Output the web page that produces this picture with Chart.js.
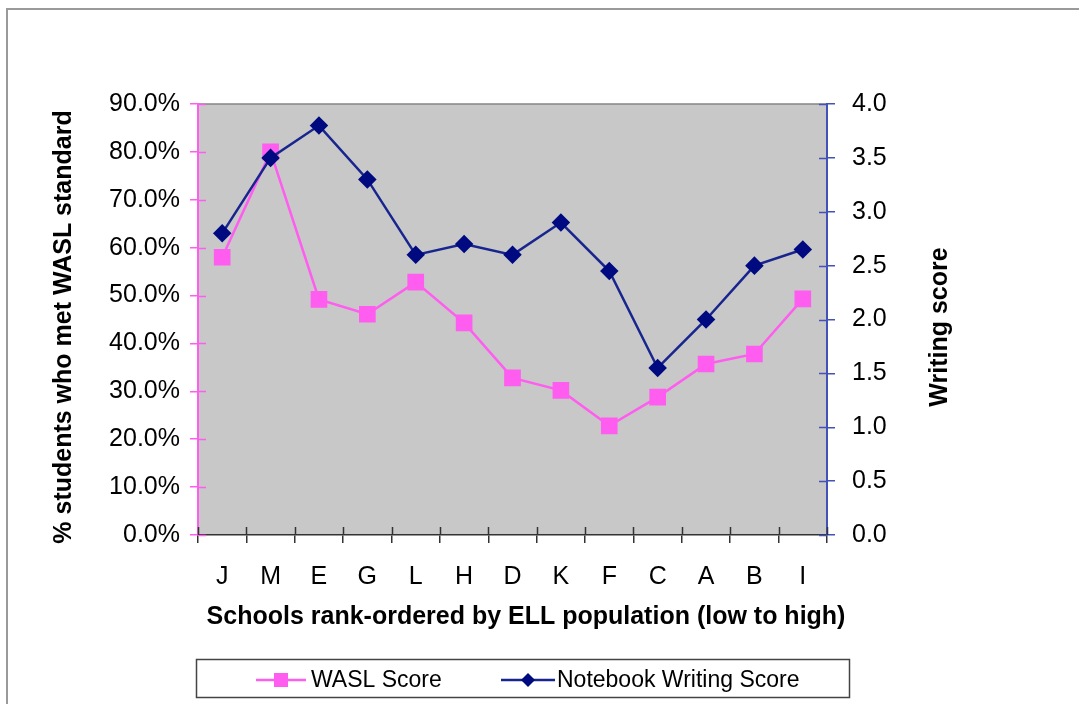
<!DOCTYPE html>
<html>
<head>
<meta charset="utf-8">
<script src="https://cdn.jsdelivr.net/npm/chart.js@4"></script>
<style>
  html, body { margin: 0; padding: 0; background: #fff; overflow: hidden; }
  #wrap { position: relative; width: 1079px; height: 704px; }
</style>
</head>
<body>
<div id="wrap"><canvas id="myChart" width="1079" height="704"></canvas></div>
<script>
const schools = ['J', 'M', 'E', 'G', 'L', 'H', 'D', 'K', 'F', 'C', 'A', 'B', 'I'];
const waslScore = [58.0, 80.0, 49.2, 46.1, 52.8, 44.3, 32.8, 30.2, 22.8, 28.8, 35.7, 37.8, 49.3];
const notebookScore = [2.8, 3.5, 3.8, 3.3, 2.6, 2.7, 2.6, 2.9, 2.45, 1.55, 2.0, 2.5, 2.65];
const pctTicks = [0, 10, 20, 30, 40, 50, 60, 70, 80, 90];
const scoreTicks = [0, 0.5, 1, 1.5, 2, 2.5, 3, 3.5, 4];

const font = '"Liberation Sans", Arial, Helvetica, sans-serif';
const pink = '#ff5cf0';
const navyLine = '#18258f';
const navyPoint = '#000a80';
const blueAxis = '#4352b8';

// frame, plot background, crossing ticks, titles and legend
const decor = {
    id: 'decor',
    beforeDraw(chart) {
        const c = chart.ctx, a = chart.chartArea;
        c.save();
        c.strokeStyle = '#9a9a9a';
        c.lineWidth = 2;
        c.strokeRect(7, 9, 1200, 800);
        c.fillStyle = '#c8c8c8';
        c.fillRect(a.left, a.top, a.right - a.left, a.bottom - a.top);
        c.strokeStyle = '#858585';
        c.lineWidth = 1.5;
        c.beginPath();
        c.moveTo(a.left, a.top);
        c.lineTo(a.right, a.top);
        c.stroke();
        c.restore();
    },
    afterDraw(chart) {
        const c = chart.ctx, a = chart.chartArea;
        const s = chart.scales;
        c.save();
        // inner halves of tick marks
        c.lineWidth = 1.5;
        c.strokeStyle = pink;
        s.y.ticks.forEach((t, i) => {
            const p = Math.round(s.y.getPixelForTick(i)) + 0.5;
            c.beginPath(); c.moveTo(a.left, p); c.lineTo(a.left + 8, p); c.stroke();
        });
        c.strokeStyle = blueAxis;
        s.y1.ticks.forEach((t, i) => {
            const p = Math.round(s.y1.getPixelForTick(i)) + 0.5;
            c.beginPath(); c.moveTo(a.right - 8, p); c.lineTo(a.right, p); c.stroke();
        });
        c.strokeStyle = '#333';
        const half = (s.x.getPixelForValue(1) - s.x.getPixelForValue(0)) / 2;
        for (let i = 0; i <= schools.length; i++) {
            const p = Math.round(s.x.getPixelForValue(i) - half) + 0.5;
            c.beginPath(); c.moveTo(p, a.bottom - 8); c.lineTo(p, a.bottom); c.stroke();
        }

        // axis titles
        c.fillStyle = '#000';
        c.font = 'bold 25px ' + font;
        c.textAlign = 'center';
        c.textBaseline = 'middle';
        c.fillText('Schools rank-ordered by ELL population (low to high)', 526, 617);
        c.save();
        c.translate(64, 327);
        c.rotate(-Math.PI / 2);
        c.fillText('% students who met WASL standard', 0, 0);
        c.restore();
        c.save();
        c.translate(940, 327);
        c.rotate(-Math.PI / 2);
        c.fillText('Writing score', 0, 0);
        c.restore();

        // legend
        c.strokeStyle = '#444';
        c.lineWidth = 1.5;
        c.strokeRect(196.5, 659.5, 653, 38);
        const ly = 680;
        c.strokeStyle = pink; c.lineWidth = 2.5;
        c.beginPath(); c.moveTo(256, ly); c.lineTo(306, ly); c.stroke();
        c.fillStyle = pink;
        c.fillRect(274, ly - 7, 14, 14);
        c.strokeStyle = navyLine; c.lineWidth = 2.5;
        c.beginPath(); c.moveTo(501, ly); c.lineTo(555, ly); c.stroke();
        c.fillStyle = navyPoint;
        c.beginPath();
        c.moveTo(528, ly - 7); c.lineTo(535, ly); c.lineTo(528, ly + 7); c.lineTo(521, ly);
        c.closePath(); c.fill();
        c.fillStyle = '#000';
        c.font = '23px ' + font;
        c.textAlign = 'left';
        c.fillText('WASL Score', 311, ly + 1);
        c.fillText('Notebook Writing Score', 557, ly + 1);
        c.restore();
    }
};

const ctx = document.getElementById('myChart');

new Chart(ctx, {
    type: 'line',
    data: {
        labels: schools,
        datasets: [
            {
                label: 'WASL Score',
                data: waslScore,
                yAxisID: 'y',
                order: 1,
                borderColor: pink,
                backgroundColor: pink,
                borderWidth: 2.5,
                pointStyle: 'rect',
                pointRadius: 10,
                pointHoverRadius: 10,
                tension: 0,
                fill: false
            }, {
                label: 'Notebook Writing Score',
                data: notebookScore,
                yAxisID: 'y1',
                order: 0,
                borderColor: navyLine,
                backgroundColor: navyPoint,
                pointBorderColor: navyPoint,
                borderWidth: 2.5,
                pointStyle: 'rectRot',
                pointRadius: 7.5,
                pointHoverRadius: 7.5,
                tension: 0,
                fill: false
            }
        ]
    },
    options: {
        responsive: false,
        animation: false,
        events: [],
        layout: { padding: { top: 104, left: 0, right: 0, bottom: 0 } },
        plugins: {
            legend: { display: false },
            tooltip: { enabled: false }
        },
        scales: {
            x: {
                offset: true,
                afterFit: s => { s.height = 169; },
                grid: { offset: true, drawOnChartArea: false, tickLength: 8, color: '#333', lineWidth: 1.5 },
                border: { color: '#333', width: 1.5 },
                ticks: { color: '#000', font: { family: font, size: 25 }, padding: 19, maxRotation: 0 }
            },
            y: {
                position: 'left',
                min: 0,
                max: 90,
                afterFit: s => { s.width = 198; },
                afterBuildTicks: s => { s.ticks = pctTicks.map(v => ({ value: v })); },
                grid: { drawOnChartArea: false, tickLength: 8, color: pink, lineWidth: 1.5 },
                border: { color: pink, width: 2 },
                ticks: {
                    color: '#000',
                    font: { family: font, size: 25 },
                    padding: 10,
                    callback: v => v.toFixed(1) + '%'
                }
            },
            y1: {
                position: 'right',
                min: 0,
                max: 4,
                afterFit: s => { s.width = 252; },
                afterBuildTicks: s => { s.ticks = scoreTicks.map(v => ({ value: v })); },
                grid: { drawOnChartArea: false, tickLength: 8, color: blueAxis, lineWidth: 1.5 },
                border: { color: blueAxis, width: 2 },
                ticks: {
                    color: '#000',
                    font: { family: font, size: 25 },
                    padding: 17,
                    callback: v => v.toFixed(1)
                }
            }
        }
    },
    plugins: [decor]
});
</script>
</body>
</html>
